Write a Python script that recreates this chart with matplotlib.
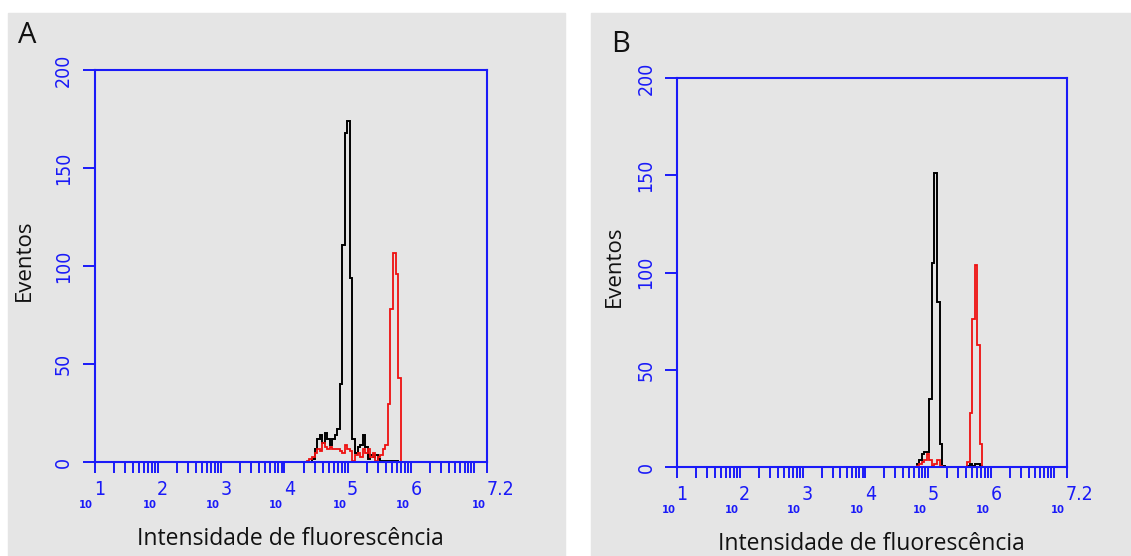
import matplotlib

matplotlib.use("Agg")
import matplotlib.pyplot as plt
from matplotlib import font_manager
from matplotlib.patches import Rectangle
from matplotlib.ticker import FixedLocator, NullFormatter

# histogram bins are log10 channels of width BIN_W decades
BIN_W = 0.04

# panel A
a_start = 4.355
a_black = [0, 0, 2, 7, 12, 14, 10, 15, 12, 9, 12, 14, 17, 40, 111, 168, 174, 94,
           12, 5, 8, 9, 14, 8, 2, 4, 3, 4, 2, 1, 1, 1, 1, 1, 1, 1]
a_red = [1, 2, 3, 5, 7, 6, 10, 8, 7, 8, 7, 7, 7, 6, 5, 9, 7, 6, 1, 4, 5, 3, 7,
         5, 7, 3, 5, 1, 3, 4, 7, 9, 30, 78, 107, 96, 43]

# panel B
b_start = 4.778
b_black = [0, 2, 4, 7, 8, 8, 35, 105, 151, 85, 12, 1, 0, 0, 0, 0, 0, 0, 0, 0,
           0, 1, 2, 1, 2, 2, 1, 0]
b_red = [0, 1, 2, 3, 4, 7, 4, 1, 2, 4, 1, 0, 0, 0, 0, 0, 0, 0, 0, 0, 0, 3, 28,
         76, 104, 63, 12, 0]

x_exponents = [1, 2, 3, 4, 5, 6]
x_max_exp = 7.2
y_ticks = [0, 50, 100, 150, 200]
x_title = "Intensidade de fluorescência"
y_title = "Eventos"

BLUE = "#1a1af8"
GRAY = "#e5e5e5"
TEXT = ["Open Sans", "DejaVu Sans"]


def narrow_font(size, weight="normal"):
    # prefer a narrow face, the axis numbers in the figure are condensed
    try:
        font_manager.findfont(
            font_manager.FontProperties(family="Liberation Sans Narrow"),
            fallback_to_default=False,
        )
        return font_manager.FontProperties(
            family="Liberation Sans Narrow", size=size, weight=weight
        )
    except ValueError:
        return font_manager.FontProperties(
            family="DejaVu Sans", stretch="condensed", size=size, weight=weight
        )


def edges(start, counts):
    return [10 ** (start + BIN_W * i) for i in range(len(counts) + 1)]


def draw_panel(fig, rect, letter, letter_pos, ylab_x, start, black, red):
    ax = fig.add_axes(rect)
    ax.set_facecolor("none")
    ax.stairs(black, edges(start, black), color="black", linewidth=1.4)
    ax.stairs(red, edges(start, red), color="#ee1111", linewidth=1.3)
    ax.set_xscale("log")
    ax.set_xlim(10 ** 1, 10 ** x_max_exp)
    ax.set_ylim(0, 200)

    for s in ax.spines.values():
        s.set_color(BLUE)
        s.set_linewidth(1.5)

    major = [10.0 ** e for e in range(1, 8)] + [10 ** x_max_exp]
    minor = [m * 10.0 ** e for e in range(1, 7) for m in range(2, 10)]
    ax.xaxis.set_major_locator(FixedLocator(major))
    ax.xaxis.set_minor_locator(FixedLocator(minor))
    ax.xaxis.set_major_formatter(NullFormatter())
    ax.xaxis.set_minor_formatter(NullFormatter())
    ax.tick_params(axis="x", which="both", direction="out", length=8,
                   width=1.4, color=BLUE)

    ax.set_yticks(y_ticks)
    ax.set_yticklabels([str(v) for v in y_ticks], rotation=90, va="center",
                       color=BLUE, fontproperties=narrow_font(14))
    ax.tick_params(axis="y", direction="out", length=8.5, width=1.4,
                   color=BLUE, pad=7)

    # "10^k" labels: small 10 then a big exponent
    for e in x_exponents + [x_max_exp]:
        exp_txt = f"{e:g}"
        ax.annotate("10", xy=(10 ** e, 0), xycoords=("data", "axes fraction"),
                    xytext=(-1, -32.5), textcoords="offset points", ha="right",
                    va="baseline", color=BLUE,
                    fontproperties=narrow_font(8, "bold"),
                    annotation_clip=False)
        ax.annotate(exp_txt, xy=(10 ** e, 0), xycoords=("data", "axes fraction"),
                    xytext=(-0.5, -23.5), textcoords="offset points", ha="left",
                    va="baseline", color=BLUE, fontproperties=narrow_font(14),
                    annotation_clip=False)

    ax.set_xlabel(x_title, fontsize=16.5, family=TEXT, color="#111111",
                  labelpad=35)
    ax.set_ylabel(y_title, fontsize=16, family=TEXT, color="#111111",
                  va="center")
    ax.yaxis.set_label_coords(ylab_x, 0.516)
    fig.text(letter_pos[0], letter_pos[1], letter, fontsize=21, family=TEXT,
             color="#111111", ha="left", va="baseline")
    return ax


def main() -> None:
    fig = plt.figure(figsize=(11.31, 5.56), dpi=100)
    fig.patch.set_facecolor("white")
    fig.patches.append(Rectangle((0.0071, 0), 0.4925, 0.9766, color=GRAY,
                                 transform=fig.transFigure, zorder=-5))
    fig.patches.append(Rectangle((0.5225, 0), 0.4775, 0.9766, color=GRAY,
                                 transform=fig.transFigure, zorder=-5))

    draw_panel(fig, [0.0836, 0.1682, 0.3470, 0.7059], "A", (0.016, 0.923),
               -0.1796, a_start, a_black, a_red)
    draw_panel(fig, [0.5986, 0.1592, 0.3444, 0.7005], "B", (0.540, 0.907),
               -0.1617, b_start, b_black, b_red)

    fig.savefig("out.png", dpi=100, facecolor="white")


if __name__ == "__main__":
    main()
